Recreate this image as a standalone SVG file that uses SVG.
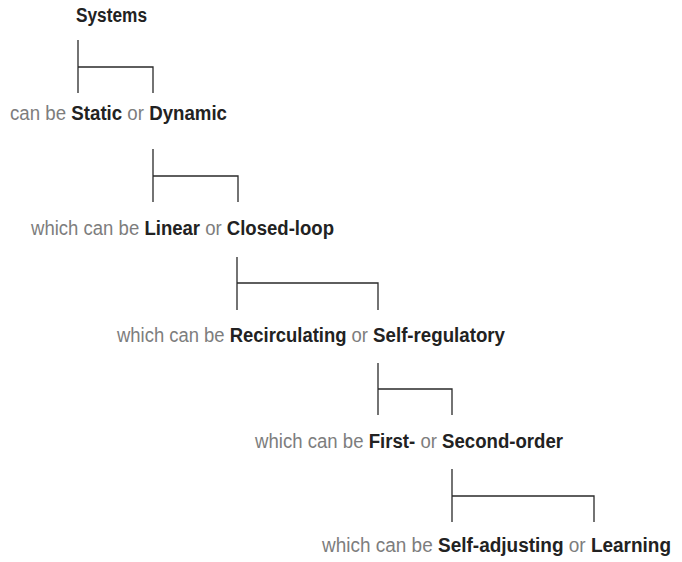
<svg xmlns="http://www.w3.org/2000/svg" width="682" height="562" viewBox="0 0 682 562">
  <style>
    text { font-family: "Liberation Sans", Arial, sans-serif; font-size: 19.5px; fill: #7d7d7d; }
    .b { font-weight: bold; fill: #222222; }
    .link { fill: none; stroke: #2a2a2a; stroke-width: 1.3; }
  </style>
  <rect width="682" height="562" fill="#ffffff"/>

  <g id="connectors">
    <path class="link" d="M78 40 V93 M78 67 H153 V93"/>
    <path class="link" d="M153 149 V202 M153 176 H238 V202"/>
    <path class="link" d="M237 257 V310 M237 283 H378 V310"/>
    <path class="link" d="M378 363 V415 M378 389 H452 V415"/>
    <path class="link" d="M452 469 V522 M452 496 H594 V522"/>
  </g>

  <g id="systems">
    <text x="76" y="21.5" textLength="71" lengthAdjust="spacingAndGlyphs" class="b">Systems</text>
  </g>
  <g id="static-dynamic">
    <text x="10" y="120" textLength="56.1" lengthAdjust="spacingAndGlyphs">can be</text>
    <text x="71.3" y="120" textLength="50.9" lengthAdjust="spacingAndGlyphs" class="b">Static</text>
    <text x="127.3" y="120" textLength="16.6" lengthAdjust="spacingAndGlyphs">or</text>
    <text x="149.2" y="120" textLength="77.8" lengthAdjust="spacingAndGlyphs" class="b">Dynamic</text>
  </g>
  <g id="linear-closed">
    <text x="31" y="235" textLength="108.2" lengthAdjust="spacingAndGlyphs">which can be</text>
    <text x="144.4" y="235" textLength="55.7" lengthAdjust="spacingAndGlyphs" class="b">Linear</text>
    <text x="205.2" y="235" textLength="16.5" lengthAdjust="spacingAndGlyphs">or</text>
    <text x="226.8" y="235" textLength="107.2" lengthAdjust="spacingAndGlyphs" class="b">Closed-loop</text>
  </g>
  <g id="recirculating-selfreg">
    <text x="117" y="342" textLength="107.6" lengthAdjust="spacingAndGlyphs">which can be</text>
    <text x="229.7" y="342" textLength="116.8" lengthAdjust="spacingAndGlyphs" class="b">Recirculating</text>
    <text x="351.6" y="342" textLength="16.4" lengthAdjust="spacingAndGlyphs">or</text>
    <text x="373.1" y="342" textLength="131.9" lengthAdjust="spacingAndGlyphs" class="b">Self-regulatory</text>
  </g>
  <g id="first-second">
    <text x="255" y="448" textLength="108.5" lengthAdjust="spacingAndGlyphs">which can be</text>
    <text x="368.7" y="448" textLength="46.5" lengthAdjust="spacingAndGlyphs" class="b">First-</text>
    <text x="420.4" y="448" textLength="16.5" lengthAdjust="spacingAndGlyphs">or</text>
    <text x="442.1" y="448" textLength="120.9" lengthAdjust="spacingAndGlyphs" class="b">Second-order</text>
  </g>
  <g id="adjusting-learning">
    <text x="322" y="552" textLength="110.7" lengthAdjust="spacingAndGlyphs">which can be</text>
    <text x="438" y="552" textLength="125.5" lengthAdjust="spacingAndGlyphs" class="b">Self-adjusting</text>
    <text x="568.7" y="552" textLength="16.9" lengthAdjust="spacingAndGlyphs">or</text>
    <text x="590.9" y="552" textLength="80.1" lengthAdjust="spacingAndGlyphs" class="b">Learning</text>
  </g>
</svg>
